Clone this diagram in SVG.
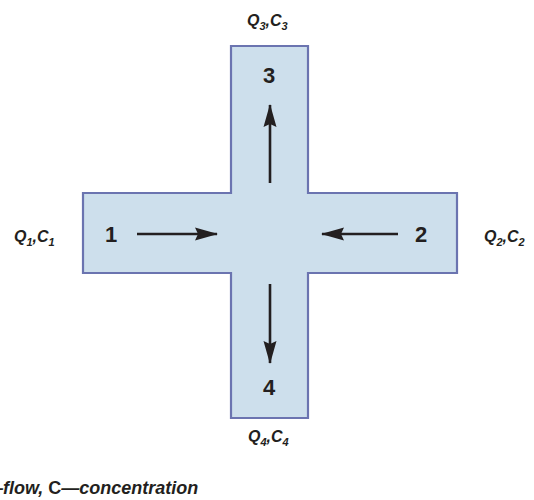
<svg xmlns="http://www.w3.org/2000/svg" width="534" height="500" viewBox="0 0 534 500">
<defs>
<style>
.shape{fill:#cddfec;stroke:#6b74b0;stroke-width:2.2}
.num{font-family:"Liberation Sans",Arial,sans-serif;font-weight:bold;font-size:22px;fill:#231f20;text-anchor:middle}
.ql{font-family:"Liberation Sans",Arial,sans-serif;font-weight:bold;font-style:italic;font-size:16px;fill:#231f20}
.sub{font-size:11px}
.arr{stroke:#231f20;stroke-width:2.6;fill:none;marker-end:url(#ah)}
.cap{font-family:"Liberation Sans",Arial,sans-serif;font-weight:bold;font-style:italic;font-size:18px;fill:#231f20}
</style>
<marker id="ah" markerWidth="24" markerHeight="14" refX="22" refY="7" orient="auto" markerUnits="userSpaceOnUse">
<path d="M0,0.5 L23,7 L0,13.5 L3,7 Z" fill="#231f20"/>
</marker>
</defs>
<g id="cross">
<path class="shape" d="M231,46 H308 V193 H457 V273 H308 V418 H231 V273 H83 V193 H231 Z"/>
</g>
<g id="node1"><text class="num" x="111" y="242">1</text></g>
<g id="node2"><text class="num" x="421" y="242">2</text></g>
<g id="node3"><text class="num" x="269" y="83">3</text></g>
<g id="node4"><text class="num" x="269" y="395">4</text></g>
<g id="labels">
<text class="ql" x="14" y="242">Q<tspan class="sub" dy="4">1</tspan><tspan dy="-4">,C</tspan><tspan class="sub" dy="4">1</tspan></text>
<text class="ql" x="484" y="242">Q<tspan class="sub" dy="4">2</tspan><tspan dy="-4">,C</tspan><tspan class="sub" dy="4">2</tspan></text>
<text class="ql" x="247" y="26">Q<tspan class="sub" dy="4">3</tspan><tspan dy="-4">,C</tspan><tspan class="sub" dy="4">3</tspan></text>
<text class="ql" x="248" y="442">Q<tspan class="sub" dy="4">4</tspan><tspan dy="-4">,C</tspan><tspan class="sub" dy="4">4</tspan></text>
</g>
<g id="connectors">
<line class="arr" x1="137" y1="234" x2="217" y2="234"/>
<line class="arr" x1="398" y1="234" x2="322" y2="234"/>
<line class="arr" x1="270" y1="183" x2="270" y2="105"/>
<line class="arr" x1="270" y1="284" x2="270" y2="363"/>
</g>
<text class="cap" x="-15" y="494">—flow, <tspan font-style="normal">C</tspan>—concentration</text>
</svg>
